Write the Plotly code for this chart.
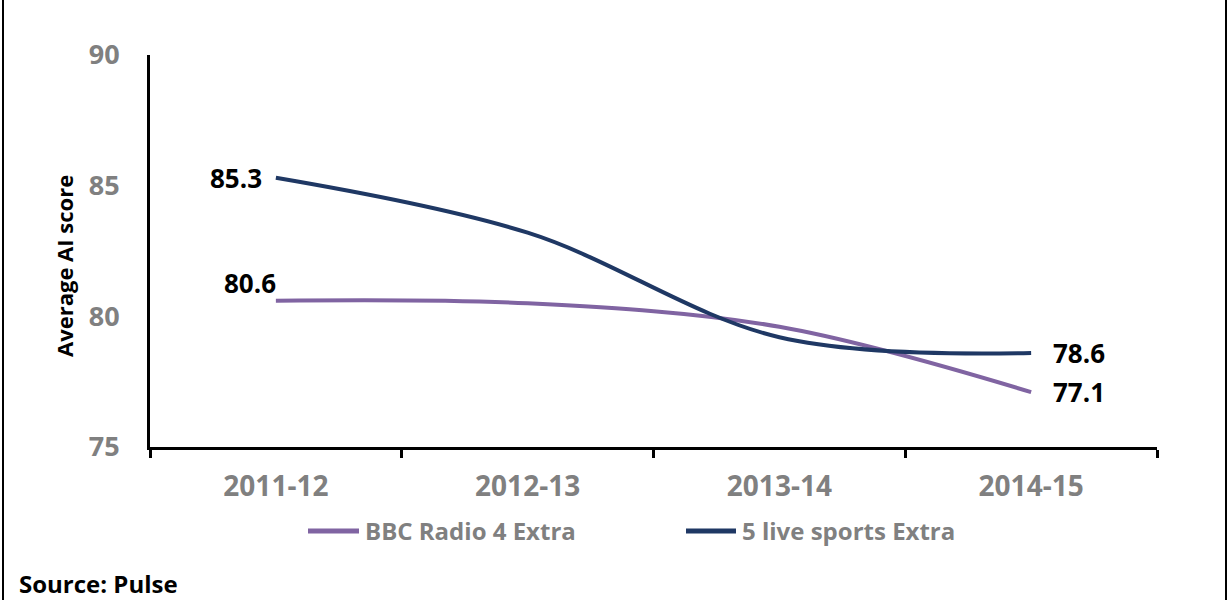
import plotly.graph_objects as go

categories = ["2011-12", "2012-13", "2013-14", "2014-15"]
radio4_extra = [80.6, 80.5, 79.6, 77.1]
live_sports_extra = [85.3, 83.2, 79.2, 78.6]
series_names = ["BBC Radio 4 Extra", "5 live sports Extra"]
y_ticks = [75, 80, 85, 90]

PURPLE = "#8064A2"
NAVY = "#1F3864"
FONT = "Open Sans"
GREY = "#808080"

W, H = 1229, 600
L, R, T, B = 150, 72, 55, 153
pw, ph = W - L - R, H - T - B

def px_x(p):
    return (p - L) / pw

def px_y(p):
    return (H - B - p) / ph

fig = go.Figure()
fig.add_trace(go.Scatter(x=categories, y=radio4_extra, mode="lines", name=series_names[0],
                         showlegend=False,
                         line=dict(color=PURPLE, width=4, shape="spline", smoothing=1.0)))
fig.add_trace(go.Scatter(x=categories, y=live_sports_extra, mode="lines", name=series_names[1],
                         showlegend=False,
                         line=dict(color=NAVY, width=4, shape="spline", smoothing=1.0)))

lab_font = dict(family=FONT, size=26, color="black", weight="bold")
# data labels
fig.add_annotation(x=categories[0], y=live_sports_extra[0], text=f"{live_sports_extra[0]:.1f}",
                   xref="x", yref="y", showarrow=False, xanchor="right", xshift=-12, font=lab_font)
fig.add_annotation(x=categories[0], y=radio4_extra[0], text=f"{radio4_extra[0]:.1f}",
                   xref="x", yref="y", showarrow=False, xanchor="right", yanchor="bottom",
                   xshift=2, yshift=-2, font=lab_font)
fig.add_annotation(x=categories[-1], y=live_sports_extra[-1], text=f"{live_sports_extra[-1]:.1f}",
                   xref="x", yref="y", showarrow=False, xanchor="left", xshift=20, font=lab_font)
fig.add_annotation(x=categories[-1], y=radio4_extra[-1], text=f"{radio4_extra[-1]:.1f}",
                   xref="x", yref="y", showarrow=False, xanchor="left", xshift=20, font=lab_font)

# axis title
fig.add_annotation(text="Average AI score", textangle=-90, x=px_x(64), y=px_y(266),
                   xref="paper", yref="paper", showarrow=False, xanchor="center", yanchor="middle",
                   font=dict(family=FONT, size=22, color="black", weight="bold"))
# source
fig.add_annotation(text="Source: Pulse", x=px_x(17), y=px_y(583), xref="paper", yref="paper",
                   showarrow=False, xanchor="left", yanchor="middle",
                   font=dict(family=FONT, size=24, color="black", weight="bold"))

# custom legend
legend_items = [(series_names[0], PURPLE, 306, 361), (series_names[1], NAVY, 684, 738)]
for name, col, x0, x1 in legend_items:
    fig.add_shape(type="line", xref="paper", yref="paper",
                  x0=px_x(x0 + 2), x1=px_x(x1 - 2), y0=px_y(531), y1=px_y(531),
                  line=dict(color=col, width=5))
    fig.add_annotation(text=name, x=px_x(x1 + 2), y=px_y(530), xref="paper", yref="paper",
                       showarrow=False, xanchor="left", yanchor="middle",
                       font=dict(family=FONT, size=24, color=GREY, weight="bold"))

# outer border
fig.add_shape(type="rect", xref="paper", yref="paper",
              x0=px_x(3), x1=px_x(1226), y0=px_y(603), y1=px_y(-3),
              line=dict(color="black", width=2), fillcolor="rgba(0,0,0,0)")

fig.update_layout(
    width=W, height=H,
    margin=dict(l=L, r=R, t=T, b=B),
    paper_bgcolor="white", plot_bgcolor="white",
    showlegend=False,
    xaxis=dict(type="category", range=[-0.5, 3.5], showgrid=False, zeroline=False,
               showline=True, linecolor="black", linewidth=3,
               ticks="outside", tickson="boundaries", ticklen=8, tickwidth=3, tickcolor="black",
               ticklabelstandoff=12,
               tickfont=dict(family=FONT, size=28, color=GREY, weight="bold")),
    yaxis=dict(range=[75, 90], tickvals=y_ticks, showgrid=False, zeroline=False,
               showline=True, linecolor="black", linewidth=3, ticks="",
               ticklabelstandoff=22,
               tickfont=dict(family=FONT, size=27, color=GREY, weight="bold")),
)

fig.write_html("out.html")
